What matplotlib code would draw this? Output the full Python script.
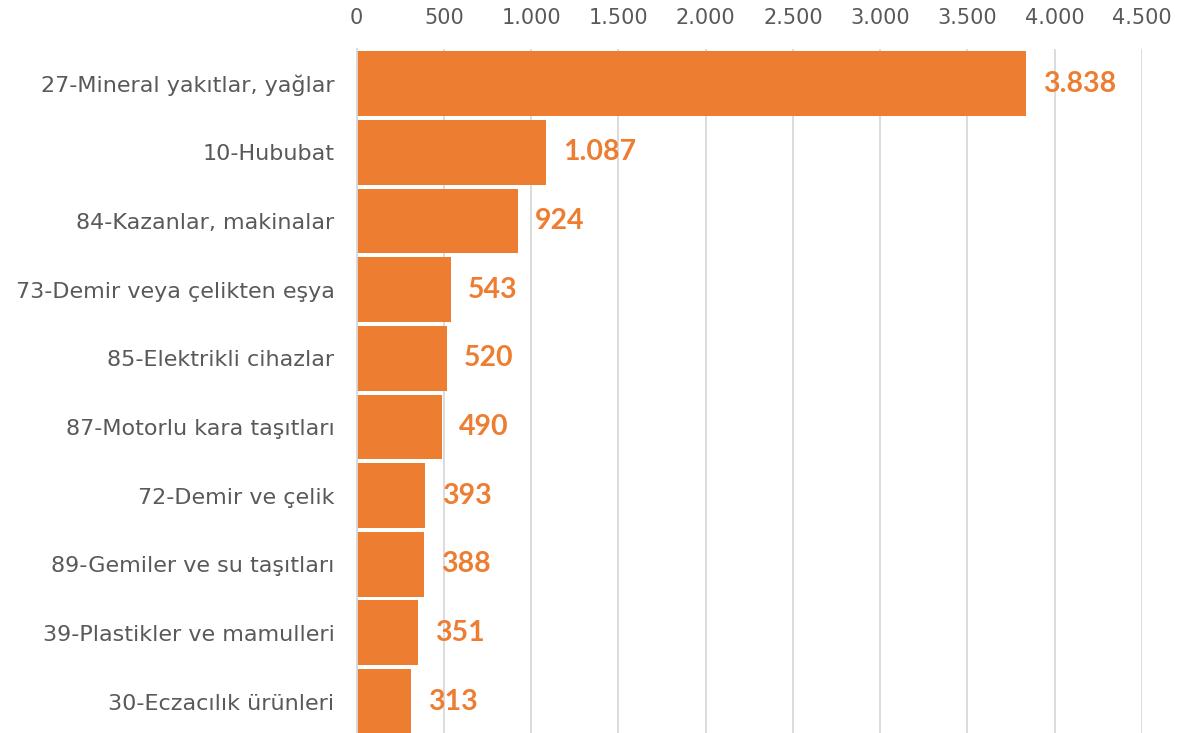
import matplotlib
matplotlib.use("Agg")
import matplotlib.pyplot as plt
from matplotlib.ticker import FuncFormatter, MultipleLocator

categories = [
    "27-Mineral yakıtlar, yağlar",
    "10-Hububat",
    "84-Kazanlar, makinalar",
    "73-Demir veya çelikten eşya",
    "85-Elektrikli cihazlar",
    "87-Motorlu kara taşıtları",
    "72-Demir ve çelik",
    "89-Gemiler ve su taşıtları",
    "39-Plastikler ve mamulleri",
    "30-Eczacılık ürünleri",
]
values = [3838, 1087, 924, 543, 520, 490, 393, 388, 351, 313]

ORANGE = "#ED7D31"
GREY = "#595959"
GRID = "#D9D9D9"

plt.rcParams["font.family"] = ["DejaVu Sans"]


def dotted(v, _pos=None):
    return f"{v:,.0f}".replace(",", ".")


fig = plt.figure(figsize=(11.79, 7.33), dpi=100)
ax = fig.add_axes([0.3025, -0.004, 0.666, 0.9367])

pos = list(range(len(categories)))
ax.barh(pos, values, height=0.945, color=ORANGE, zorder=2)
ax.set_ylim(len(categories) - 0.5, -0.5)
ax.set_xlim(0, 4500)

ax.xaxis.set_major_locator(MultipleLocator(500))
ax.xaxis.set_major_formatter(FuncFormatter(dotted))
ax.xaxis.tick_top()
ax.tick_params(axis="x", length=0, pad=15, labelsize=15, labelcolor=GREY)
ax.tick_params(axis="y", length=0, pad=16, labelsize=16, labelcolor=GREY)
ax.set_yticks(pos)
ax.set_yticklabels(categories)

ax.grid(axis="x", color=GRID, linewidth=1.3, zorder=0)
for side in ["top", "right", "bottom"]:
    ax.spines[side].set_visible(False)
ax.spines["left"].set_color(GRID)
ax.spines["left"].set_linewidth(1.3)

for p, v in zip(pos, values):
    ax.annotate(dotted(v), (v, p), xytext=(12, 0), textcoords="offset points",
                va="center", ha="left", color=ORANGE, fontsize=20.5, fontweight="bold",
                family="Lato")

fig.savefig("out.png", dpi=100)
